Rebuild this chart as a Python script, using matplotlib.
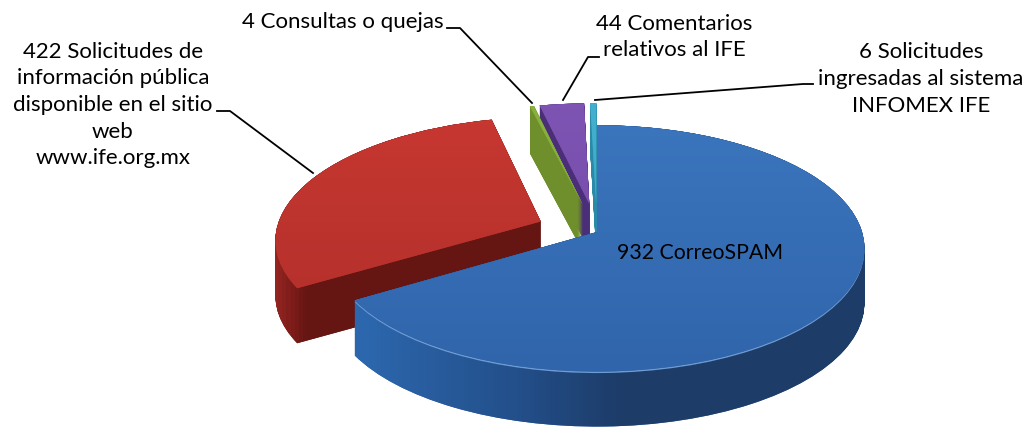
import numpy as np
from matplotlib import pyplot as plt
from matplotlib.colors import LinearSegmentedColormap
from matplotlib.patches import PathPatch
from matplotlib.path import Path
from matplotlib.transforms import Affine2D, Transform

values = [932, 422, 4, 44, 6]
labels = ['932 CorreoSPAM',
          '422 Solicitudes de\ninformación pública\ndisponible en el sitio\nweb\nwww.ife.org.mx',
          '4 Consultas o quejas',
          '44 Comentarios\nrelativos al IFE',
          '6 Solicitudes\ningresadas al sistema\nINFOMEX IFE']
explode = [0, 0.232, 0.24, 0.24, 0.24]

top_hi = ['#3f7cc4', '#d03b33', '#8db83f', '#8258b8', '#46b4d2']
top_lo = ['#2d60a6', '#a82b28', '#7a9c34', '#6c45a0', '#34a0c0']
# side colours, left to right across the picture
side_cols = [[(0.0, '#2c66ac'), (0.36, '#2c66ac'), (0.5, '#234f8a'), (0.6, '#1d3c68'),
              (0.83, '#1d3c68'), (0.93, '#2d5f9e'), (1.0, '#2d5f9e')],
             [(0.0, '#962522'), (0.27, '#962522'), (0.3, '#651512'), (1.0, '#651512')],
             [(0.0, '#6f8f2c'), (1.0, '#6f8f2c')],
             [(0.0, '#4a2f78'), (1.0, '#4a2f78')],
             [(0.0, '#2a8aa8'), (1.0, '#2a8aa8')]]
depths = [55, 55, 47, 47, 47]

W, H = 1031, 432
cx, cy, sx, sy = 597, 232, 265, 121
tilt = 0.133
xr = (-2.3, 1.7)


class Tilt(Transform):
    # pie seen from the front: near part bigger than the far part
    input_dims = 2
    output_dims = 2

    def transform_non_affine(self, values):
        values = np.asarray(values)
        w = 1 + tilt * values[:, 1]
        return np.column_stack([values[:, 0] / w, values[:, 1] / w])

    def inverted(self):
        return Tilt()


fig = plt.figure(figsize=(W / 100, H / 100), dpi=100)
ax = fig.add_axes([0, 0, 1, 1])
z = [1]


def draw_wedge(i, down):
    wedges, _ = ax.pie(values, explode=explode, startangle=90, counterclock=False, frame=False)
    for j, w in enumerate(wedges):
        if j != i:
            w.remove()
    w = wedges[i]
    w.set_transform(Tilt() + Affine2D().translate(0, -down / sy) + ax.transData)
    w.set_edgecolor('none')
    z[0] += 1
    w.set_zorder(z[0])
    return w


def fill(patch, data, cmap):
    z[0] += 1
    im = ax.imshow(data, cmap=cmap, origin='lower', aspect='auto', vmin=0, vmax=1,
                   extent=[xr[0], xr[1], -1.8, 1.8], zorder=z[0], interpolation='bilinear')
    im.set_clip_path(patch)


def draw_slice(i):
    side = LinearSegmentedColormap.from_list('side', side_cols[i])
    w = draw_wedge(i, 0)
    w.set_facecolor(top_lo[i])
    # side wall: the top face swept down, all in one path so the fill stays smooth
    p = w.get_patch_transform().transform_path(w.get_path())
    p = Tilt().transform_path(p)
    steps = [Path(p.vertices - [0, d / sy], p.codes) for d in range(depths[i] + 1)]
    z[0] += 1
    wall = PathPatch(Path.make_compound_path(*steps), facecolor=side_cols[i][-1][1], edgecolor='none',
                     transform=ax.transData, zorder=z[0])
    ax.add_patch(wall)
    fill(wall, np.linspace(0, 1, 256).reshape(1, -1), side)
    # thin light rim on the front edge of the blue slice
    if i == 0:
        draw_wedge(i, 1.5).set_facecolor('#6d9bd3')
    w = draw_wedge(i, 0)
    w.set_facecolor(top_lo[i])
    fill(w, np.linspace(0, 1, 64).reshape(-1, 1), LinearSegmentedColormap.from_list('top', [top_lo[i], top_hi[i]]))


# back to front: red, the small slices, then the big blue one
draw_slice(1)
draw_slice(3)
draw_slice(2)
draw_slice(4)
draw_slice(0)

ax.set_aspect('auto')
ax.set_xlim(-cx / sx, (W - cx) / sx)
ax.set_ylim(-(H - cy) / sy, cy / sy)
ax.axis('off')

# labels and leader lines sit on an overlay in picture coordinates
ov = fig.add_axes([0, 0, 1, 1], facecolor='none')
ov.set_xlim(0, W)
ov.set_ylim(H, 0)
ov.axis('off')

font = dict(family='Lato', color='black', ha='center', va='center', linespacing=1.42)
ov.text(700, 253, labels[0], fontsize=15.3, **font)
ov.text(113, 105, labels[1], fontsize=16, **font)
ov.text(343, 22, labels[2], fontsize=16, **font)
ov.text(674, 37, labels[3], fontsize=16, **font)
ov.text(921, 79, labels[4], fontsize=16, **font)

ov.plot([217, 230, 313], [111, 111, 173], color='black', lw=1.3)
ov.plot([447, 460, 532], [28, 28, 103], color='black', lw=1.3)
ov.plot([599, 588, 563], [57, 57, 100], color='black', lw=1.3)
ov.plot([813, 803, 595], [84, 84, 100], color='black', lw=1.3)

fig.savefig('out.png', dpi=100)
